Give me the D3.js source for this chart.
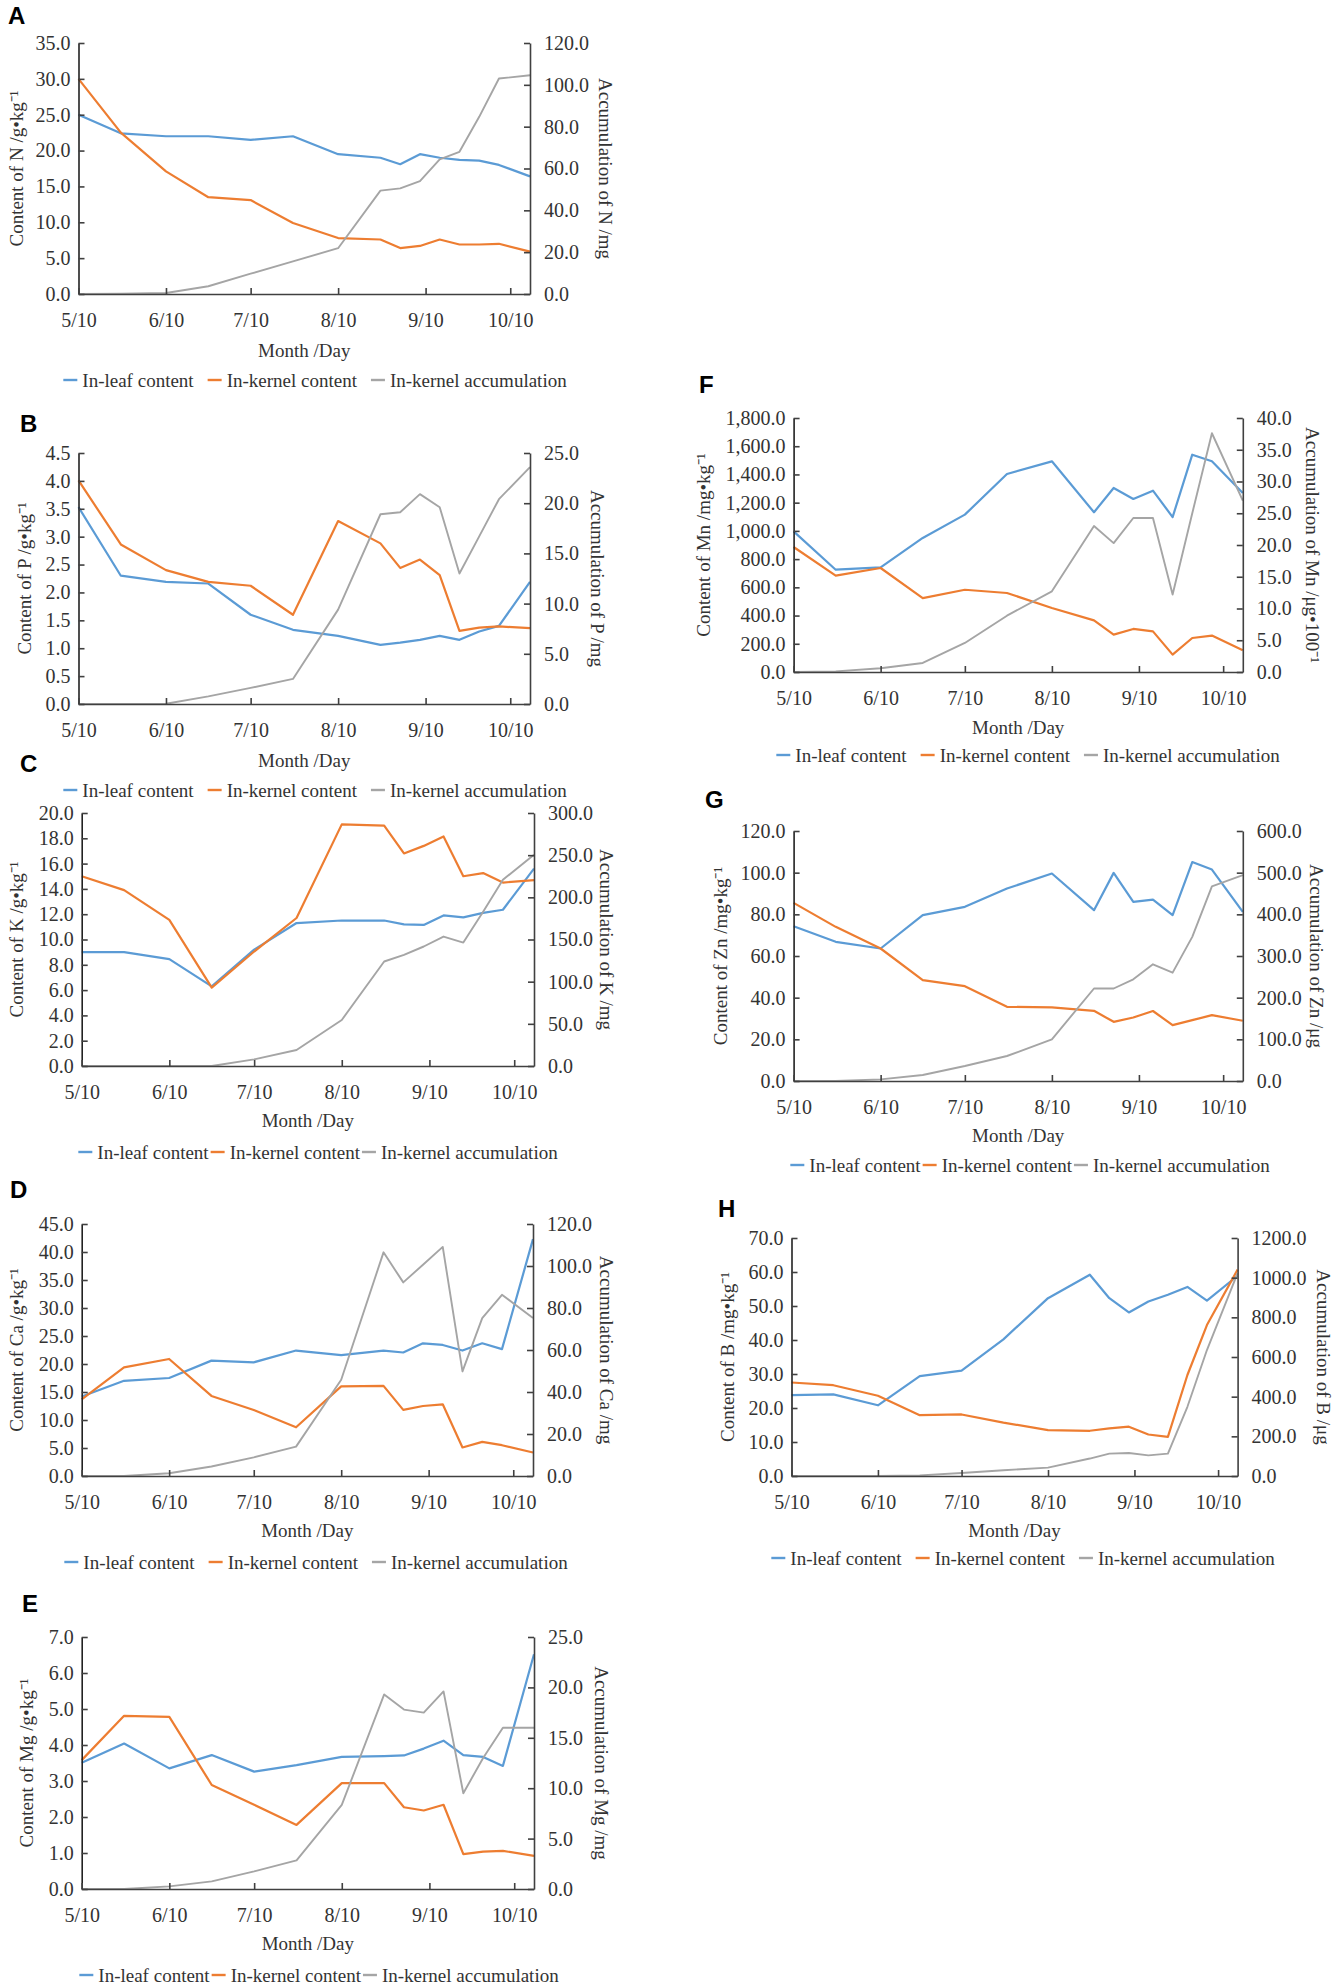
<!DOCTYPE html>
<html>
<head>
<meta charset="utf-8">
<script src="https://cdn.jsdelivr.net/npm/d3@7"></script>
<style>
body { margin: 0; background: #fff; }
svg { display: block; }
</style>
</head>
<body>
<script>
// sampling dates (month/day) and axis labels
const dates = ["5/10", "5/25", "6/10", "6/25", "7/10", "7/25", "8/10", "8/25", "9/1", "9/8", "9/15", "9/22", "9/29", "10/6", "10/17"];
const tickLabels = ["5/10", "6/10", "7/10", "8/10", "9/10", "10/10"];
const seriesNames = ["In-leaf content", "In-kernel content", "In-kernel accumulation"];
const colours = ["#5b9bd5", "#ed7d31", "#a5a5a5"];

// A - N
const nLeaf = [25.0, 22.4, 22.0, 22.0, 21.5, 22.0, 19.5, 19.0, 18.1, 19.5, 19.0, 18.7, 18.6, 18.0, 16.4];
const nKernel = [30.0, 22.5, 17.1, 13.5, 13.1, 9.9, 7.8, 7.6, 6.4, 6.7, 7.6, 6.9, 6.9, 7.0, 5.9];
const nAccum = [0, 0.1, 0.5, 3.7, 9.7, 15.6, 21.9, 49.4, 50.5, 54.0, 64.4, 68.0, 84.7, 103.0, 104.6];
// B - P
const pLeaf = [3.53, 2.30, 2.19, 2.16, 1.60, 1.33, 1.22, 1.06, 1.10, 1.15, 1.22, 1.15, 1.30, 1.40, 2.19];
const pKernel = [4.01, 2.86, 2.40, 2.19, 2.12, 1.60, 3.28, 2.88, 2.44, 2.59, 2.31, 1.31, 1.37, 1.39, 1.36];
const pAccum = [0, 0, 0.03, 0.76, 1.6, 2.5, 9.4, 18.9, 19.1, 20.9, 19.6, 13.0, 16.7, 20.4, 23.6];
// C - K
const kLeaf = [9.0, 9.0, 8.45, 6.3, 9.2, 11.3, 11.5, 11.5, 11.2, 11.15, 11.9, 11.75, 12.1, 12.35, 15.6];
const kKernel = [15.0, 13.9, 11.55, 6.2, 9.05, 11.7, 19.1, 19.0, 16.8, 17.4, 18.15, 15.0, 15.25, 14.5, 14.7];
const kAccum = [0, 0, 0, 0, 7.9, 19, 54.6, 123.9, 131.8, 141.7, 153.5, 146.4, 183, 220.8, 250.5];
// D - Ca
const caLeaf = [14.2, 17.0, 17.5, 20.6, 20.3, 22.4, 21.6, 22.4, 22.05, 23.7, 23.4, 22.4, 23.7, 22.65, 42.3];
const caKernel = [13.7, 19.4, 20.9, 14.3, 11.8, 8.7, 16.0, 16.1, 11.8, 12.5, 12.8, 5.1, 6.1, 5.5, 4.2];
const caAccum = [0, 0, 1.3, 4.5, 8.9, 14.0, 45.8, 106.5, 92.2, 100.6, 109.1, 49.8, 75.2, 86.3, 75.2];
// E - Mg
const mgLeaf = [3.51, 4.04, 3.35, 3.72, 3.26, 3.44, 3.67, 3.69, 3.71, 3.9, 4.12, 3.72, 3.67, 3.42, 6.52];
const mgKernel = [3.58, 4.81, 4.78, 2.89, 2.34, 1.78, 2.94, 2.94, 2.27, 2.18, 2.34, 0.97, 1.04, 1.06, 0.92];
const mgAccum = [0, 0, 0.26, 0.76, 1.75, 2.84, 8.34, 19.3, 17.8, 17.5, 19.6, 9.5, 13.0, 16.0, 16.0];
// F - Mn
const mnLeaf = [997, 725, 742, 950, 1115, 1403, 1493, 1132, 1304, 1226, 1285, 1098, 1540, 1493, 1269];
const mnKernel = [886, 683, 737, 524, 583, 560, 454, 366, 265, 305, 288, 123, 241, 258, 154];
const mnAccum = [0, 0.1, 0.58, 1.42, 4.57, 8.87, 12.7, 23.0, 20.3, 24.25, 24.25, 12.2, 25.0, 37.6, 27.0];
// G - Zn
const znLeaf = [74.3, 66.8, 63.6, 79.6, 83.6, 92.4, 99.6, 82.0, 99.9, 86.0, 87.1, 79.6, 105.1, 101.5, 81.2];
const znKernel = [85.5, 74.0, 63.6, 48.4, 45.5, 35.6, 35.3, 33.7, 28.4, 30.5, 33.6, 26.8, 29.2, 31.6, 28.9];
const znAccum = [0, 0, 4, 14.4, 36, 60, 100, 222, 222, 244, 280, 260, 346, 467, 494];
// H - B
const bLeaf = [23.8, 24.0, 20.8, 29.4, 31.0, 40.2, 52.3, 59.2, 52.3, 48.1, 51.3, 53.3, 55.6, 51.6, 58.9];
const bKernel = [27.5, 26.7, 23.6, 17.9, 18.1, 15.7, 13.5, 13.3, 14.0, 14.5, 12.2, 11.5, 29.7, 44.4, 60.7];
const bAccum = [0, 0, 0, 3, 15, 29, 42, 88, 113, 116, 104, 113, 349, 635, 1023];

const panels = [
	{ id: "A", series: [nLeaf, nKernel, nAccum], yMax: 35, yStep: 5, y2Max: 120, y2Step: 20,
		yTitle: "Content of N /g•kg⁻¹", y2Title: "Accumulation of N /mg",
		box: [78.5, 530, 43, 294], letter: [8, 24], titleX: [16, 606], xTitleY: 350, legend: [315, 380, 14] },
	{ id: "B", series: [pLeaf, pKernel, pAccum], yMax: 4.5, yStep: 0.5, y2Max: 25, y2Step: 5,
		yTitle: "Content of P /g•kg⁻¹", y2Title: "Accumulation of P /mg",
		box: [78.5, 530, 453, 704], letter: [20, 432], titleX: [24, 598], xTitleY: 760, legend: [315, 790, 14] },
	{ id: "C", series: [kLeaf, kKernel, kAccum], yMax: 20, yStep: 2, y2Max: 300, y2Step: 50,
		yTitle: "Content of K /g•kg⁻¹", y2Title: "Accumulation of K /mg",
		box: [81.7, 534, 813, 1066], letter: [20, 772], titleX: [16, 607], xTitleY: 1120, legend: [318, 1152, 2] },
	{ id: "D", series: [caLeaf, caKernel, caAccum], yMax: 45, yStep: 5, y2Max: 120, y2Step: 20,
		yTitle: "Content of Ca /g•kg⁻¹", y2Title: "Accumulation of Ca /mg",
		box: [81.7, 533, 1224, 1476], letter: [10, 1198], titleX: [16, 607], xTitleY: 1530, legend: [316, 1562, 14] },
	{ id: "E", series: [mgLeaf, mgKernel, mgAccum], yMax: 7, yStep: 1, y2Max: 25, y2Step: 5,
		yTitle: "Content of Mg /g•kg⁻¹", y2Title: "Accumulation of Mg /mg",
		box: [81.7, 534, 1637, 1889], letter: [22, 1612], titleX: [26, 602], xTitleY: 1943, legend: [319, 1975, 2] },
	{ id: "F", series: [mnLeaf, mnKernel, mnAccum], yMax: 1800, yStep: 200, y2Max: 40, y2Step: 5,
		yTitle: "Content of Mn /mg•kg⁻¹", y2Title: "Accumulation of Mn /μg•100⁻¹", yFormat: ",.1f",
		box: [793.6, 1242.8, 418, 672], letter: [699, 393], titleX: [703, 1313], xTitleY: 727, legend: [1028, 755, 14] },
	{ id: "G", series: [znLeaf, znKernel, znAccum], yMax: 120, yStep: 20, y2Max: 600, y2Step: 100,
		yTitle: "Content of Zn /mg•kg⁻¹", y2Title: "Accumulation of Zn /μg",
		box: [793.6, 1242.8, 831, 1081], letter: [705, 808], titleX: [720, 1317], xTitleY: 1135, legend: [1030, 1165, 2] },
	{ id: "H", series: [bLeaf, bKernel, bAccum], yMax: 70, yStep: 10, y2Max: 1200, y2Step: 200,
		yTitle: "Content of B /mg•kg⁻¹", y2Title: "Accumulation of B /μg",
		box: [791.5, 1237.6, 1238, 1476], letter: [718, 1217], titleX: [727, 1324], xTitleY: 1530, legend: [1023, 1558, 14] }
];

const serif = "'Liberation Serif', 'Times New Roman', serif";
const parse = d3.timeParse("%m/%d/%Y");
const toDate = s => parse(`${s}/2019`);
const dateValues = dates.map(toDate);
const tickDates = tickLabels.map(toDate);

const svg = d3.select("body").append("svg")
	.attr("width", 1333)
	.attr("height", 1988);

function drawPanel(p) {
	const [x0, x1, y0, y1] = p.box;

	const x = d3.scaleTime()
		.domain([dateValues[0], dateValues[dateValues.length - 1]])
		.range([x0, x1]);

	const y = d3.scaleLinear().domain([0, p.yMax]).range([y1, y0]);
	const y2 = d3.scaleLinear().domain([0, p.y2Max]).range([y1, y0]);

	const g = svg.append("g");

	// lines first, axes over them
	const line = (scale) => d3.line()
		.x((d, i) => x(dateValues[i]))
		.y(d => scale(d));

	p.series.forEach((values, i) => {
		g.append("path")
			.datum(values)
			.attr("fill", "none")
			.attr("stroke", colours[i])
			.attr("stroke-width", i === 2 ? 1.9 : 2.2)
			.attr("stroke-linejoin", "round")
			.attr("d", line(i === 2 ? y2 : y));
	});

	const fmt = d3.format(p.yFormat || ".1f");

	const yAxis = g.append("g")
		.attr("transform", `translate(${x0},0)`)
		.call(d3.axisLeft(y)
			.tickValues(d3.range(0, p.yMax + p.yStep / 2, p.yStep))
			.tickFormat(fmt)
			.tickSizeInner(-6)
			.tickSizeOuter(0)
			.tickPadding(8));

	const y2Axis = g.append("g")
		.attr("transform", `translate(${x1},0)`)
		.call(d3.axisRight(y2)
			.tickValues(d3.range(0, p.y2Max + p.y2Step / 2, p.y2Step))
			.tickFormat(d3.format(".1f"))
			.tickSizeInner(-6)
			.tickSizeOuter(0)
			.tickPadding(14));

	const xAxis = g.append("g")
		.attr("transform", `translate(0,${y1})`)
		.call(d3.axisBottom(x)
			.tickValues(tickDates)
			.tickFormat((d, i) => tickLabels[i])
			.tickSizeInner(-6)
			.tickSizeOuter(0)
			.tickPadding(19));

	[yAxis, y2Axis, xAxis].forEach(a => {
		a.selectAll(".domain").attr("stroke", "#404040").attr("stroke-width", 1.6);
		a.selectAll(".tick line").attr("stroke", "#404040").attr("stroke-width", 1.6);
		a.selectAll("text")
			.attr("font-family", serif)
			.attr("font-size", 20)
			.attr("fill", "#333");
	});
	yAxis.select(".domain").attr("stroke", "#222");

	// panel letter
	svg.append("text")
		.attr("x", p.letter[0])
		.attr("y", p.letter[1])
		.attr("font-family", "'Liberation Sans', Arial, sans-serif")
		.attr("font-weight", "bold")
		.attr("font-size", 24)
		.attr("fill", "#000")
		.text(p.id);

	const midY = (y0 + y1) / 2;

	svg.append("text")
		.attr("transform", `translate(${p.titleX[0]},${midY}) rotate(-90)`)
		.attr("text-anchor", "middle")
		.attr("dy", "0.35em")
		.attr("font-family", serif)
		.attr("font-size", 19)
		.attr("fill", "#333")
		.text(p.yTitle);

	svg.append("text")
		.attr("transform", `translate(${p.titleX[1]},${midY}) rotate(90)`)
		.attr("text-anchor", "middle")
		.attr("dy", "0.35em")
		.attr("font-family", serif)
		.attr("font-size", 19)
		.attr("fill", "#333")
		.text(p.y2Title);

	svg.append("text")
		.attr("x", (x0 + x1) / 2)
		.attr("y", p.xTitleY)
		.attr("text-anchor", "middle")
		.attr("dy", "0.35em")
		.attr("font-family", serif)
		.attr("font-size", 19)
		.attr("fill", "#333")
		.text("Month /Day");

	// legend, centred on its x
	const [cx, ly, gap] = p.legend;
	const lg = svg.append("g");
	let lx = 0;
	seriesNames.forEach((name, i) => {
		lg.append("line")
			.attr("x1", lx)
			.attr("x2", lx + 14)
			.attr("y1", 0)
			.attr("y2", 0)
			.attr("stroke", colours[i])
			.attr("stroke-width", 2.4);
		lx += 19;
		const t = lg.append("text")
			.attr("x", lx)
			.attr("dy", "0.35em")
			.attr("font-family", serif)
			.attr("font-size", 19)
			.attr("fill", "#333")
			.text(name);
		lx += t.node().getComputedTextLength() + gap;
	});
	lx -= gap;
	lg.attr("transform", `translate(${cx - lx / 2},${ly})`);
}

panels.forEach(drawPanel);
</script>
</body>
</html>
